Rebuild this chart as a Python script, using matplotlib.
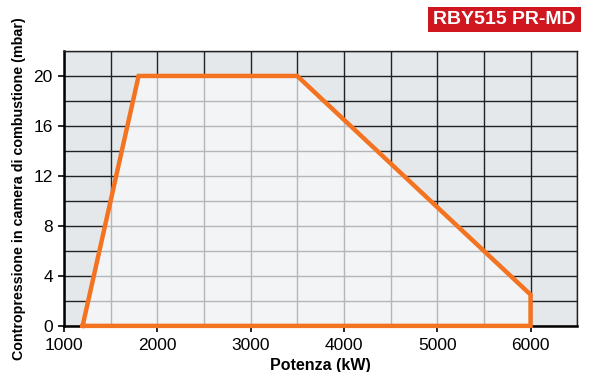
import matplotlib.pyplot as plt
from matplotlib.patches import Polygon, Rectangle

plt.rcParams['font.family'] = ['Liberation Sans', 'DejaVu Sans']

# working field of the burner
power_kw = [1200, 1800, 3500, 6000, 6000]
pressure_mbar = [0, 20, 20, 2.5, 0]

x_ticks = [1000, 2000, 3000, 4000, 5000, 6000]
y_ticks = [0, 4, 8, 12, 16, 20]
x_grid = [1000, 1500, 2000, 2500, 3000, 3500, 4000, 4500, 5000, 5500, 6000, 6500]
y_grid = [0, 2, 4, 6, 8, 10, 12, 14, 16, 18, 20, 22]

fig = plt.figure(figsize=(5.92, 3.72), dpi=100)
ax = fig.add_axes([0.108, 0.124, 0.867, 0.739])
ax.set_facecolor('#e5e8eb')
ax.set_xlim(1000, 6500)
ax.set_ylim(0, 22)

# dark grid outside the field
for x in x_grid:
    ax.axvline(x, color='#222222', lw=1.0, zorder=1)
for y in y_grid:
    ax.axhline(y, color='#222222', lw=1.0, zorder=1)

pts = list(zip(power_kw, pressure_mbar))
field = Polygon(pts, closed=True, facecolor='#f3f4f6', edgecolor='none', zorder=2)
ax.add_patch(field)

# light grid inside the field
for x in x_grid:
    ln = ax.axvline(x, color='#b4b6b8', lw=1.0, zorder=3)
    ln.set_clip_path(field)
for y in y_grid:
    ln = ax.axhline(y, color='#b4b6b8', lw=1.0, zorder=3)
    ln.set_clip_path(field)

ax.plot(power_kw + [power_kw[0]], pressure_mbar + [pressure_mbar[0]],
        color='#f47320', lw=3.2, solid_joinstyle='miter', zorder=4, clip_on=False)

ax.set_xticks(x_ticks)
ax.set_yticks(y_ticks)
ax.tick_params(direction='out', length=4, width=1.2, labelsize=12.5, colors='black')
ax.tick_params(axis='x', pad=5)
ax.tick_params(axis='y', pad=4)
for s in ['left', 'bottom']:
    ax.spines[s].set_linewidth(1.8)
for s in ['top', 'right']:
    ax.spines[s].set_linewidth(1.0)
    ax.spines[s].set_color('#222222')

ax.set_xlabel('Potenza (kW)', fontsize=11.5, fontweight='bold', labelpad=3)
ax.set_ylabel('Contropressione in camera di combustione (mbar)', fontsize=10.3,
              fontweight='bold')
ax.yaxis.set_label_coords(-0.073, 0.5)

fig.add_artist(Rectangle((0.723, 0.914), 0.258, 0.067, transform=fig.transFigure,
                         facecolor='#d0161f', edgecolor='none'))
fig.text(0.852, 0.948, 'RBY515 PR-MD', ha='center', va='center', color='white',
         fontsize=14, fontweight='bold')

fig.savefig('out.png', dpi=100)
